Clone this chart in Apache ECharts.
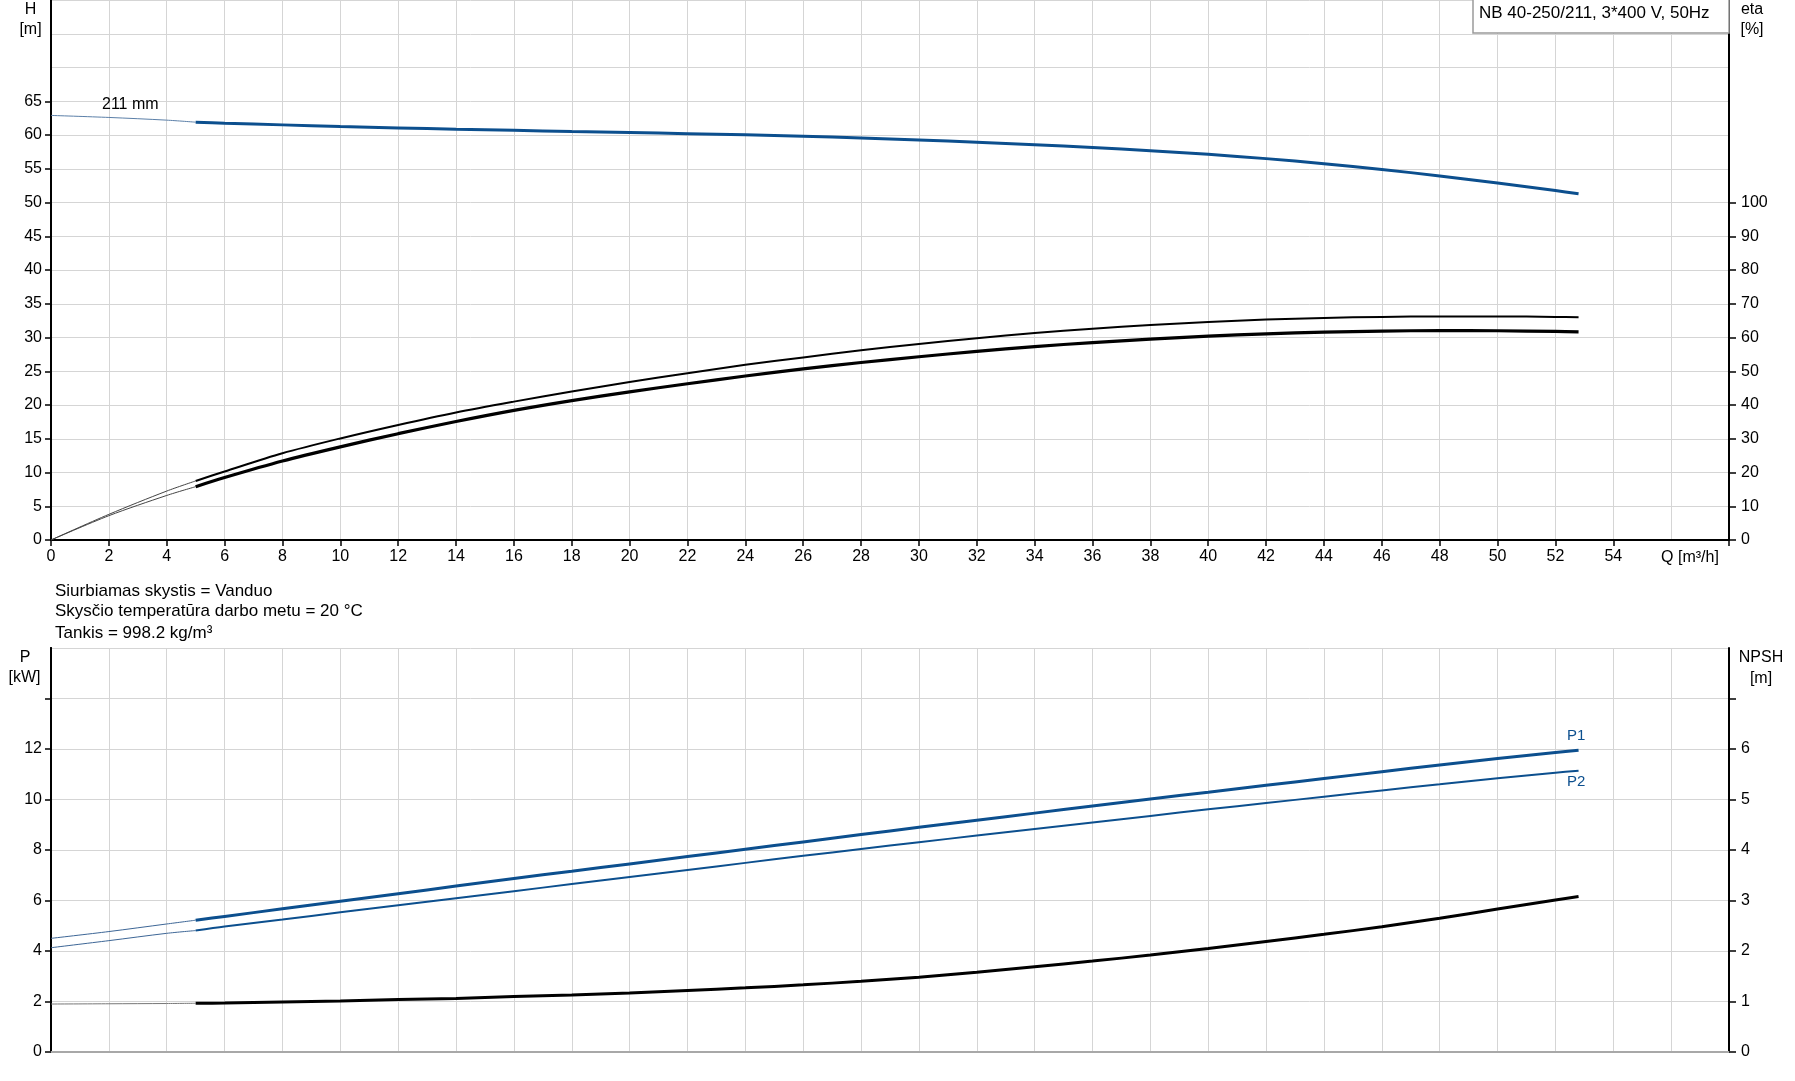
<!DOCTYPE html>
<html><head><meta charset="utf-8">
<script src="https://cdn.jsdelivr.net/npm/echarts@6/dist/echarts.min.js"></script>
<style>html,body{margin:0;padding:0;background:#fff}#c{width:1795px;height:1081px}</style>
</head><body><div id="c"></div>
<script>
// ---- data ----
const flow    = [5,6,8,10,12,14,16,18,20,22,24,26,28,30,32,34,36,38,40,42,44,46,48,50,52,52.8];
const head    = [61.9,61.75,61.5,61.25,61.05,60.85,60.7,60.52,60.37,60.2,60.02,59.82,59.55,59.25,58.93,58.57,58.16,57.68,57.14,56.5,55.75,54.9,53.93,52.88,51.77,51.3];
const etaA    = [17.5,20.3,25.7,30.1,34.1,37.8,41.0,44.0,46.8,49.4,51.9,54.1,56.2,58.1,59.8,61.3,62.6,63.7,64.6,65.3,65.8,66.1,66.25,66.25,66.1,66.0];
const etaB    = [15.8,18.5,23.4,27.6,31.5,35.1,38.4,41.3,43.9,46.3,48.6,50.7,52.6,54.3,55.9,57.3,58.5,59.5,60.4,61.1,61.6,61.9,62.05,62.0,61.8,61.65];
const p1      = [5.22,5.37,5.67,5.97,6.27,6.57,6.87,7.16,7.45,7.74,8.03,8.32,8.61,8.90,9.18,9.46,9.74,10.02,10.29,10.56,10.83,11.10,11.37,11.62,11.86,11.95];
const p2      = [4.81,4.97,5.25,5.53,5.81,6.09,6.37,6.65,6.93,7.21,7.49,7.77,8.04,8.31,8.57,8.83,9.09,9.35,9.61,9.86,10.11,10.36,10.60,10.84,11.06,11.14];
const npsh    = [0.965,0.97,0.99,1.01,1.04,1.06,1.10,1.13,1.17,1.22,1.27,1.33,1.40,1.48,1.58,1.69,1.80,1.92,2.05,2.19,2.33,2.48,2.65,2.83,3.01,3.08];
// thin parts (Q 0..5)
const flowExt = [0,2,4,5];
const headExt = [62.9,62.6,62.2,61.9];
const etaAExt = [0,7.6,14.5,17.5];
const etaBExt = [0,7.2,13.2,15.8];
const p1Ext   = [4.5,4.77,5.07,5.22];
const p2Ext   = [4.13,4.41,4.70,4.81];
const npshExt = [0.95,0.955,0.96,0.965];
// tick labels
const qLabels    = [0,2,4,6,8,10,12,14,16,18,20,22,24,26,28,30,32,34,36,38,40,42,44,46,48,50,52,54];
const hLabels    = [0,5,10,15,20,25,30,35,40,45,50,55,60,65];
const etaLabels  = [0,10,20,30,40,50,60,70,80,90,100];
const pLabels    = [0,2,4,6,8,10,12];
const npshLabels = [0,1,2,3,4,5,6];

const FONT = '"Liberation Sans", Arial, sans-serif';
const BLUE = '#0c4f8e';
const GRIDC = '#d5d5d5';
const TICKFS = 16;
const pair = (xs, ys) => xs.map((x, i) => [x, ys[i]]);

const chart = echarts.init(document.getElementById('c'), null, {renderer: 'canvas'});

const axisLbl = (extra) => Object.assign({fontSize: TICKFS, color: '#000', fontFamily: FONT}, extra);

function line(name, xs, ys, xi, yi, color, width) {
  return {name, type: 'line', xAxisIndex: xi, yAxisIndex: yi, data: pair(xs, ys),
    showSymbol: false, symbol: 'none', smooth: 0.3, silent: true,
    lineStyle: {color, width}, z: 5};
}
function txt(x, y, text, size, align, color, z) {
  return {type: 'text', x, y, z: z || 1, style: {text, font: size + 'px ' + FONT, fill: color || '#000', align: align || 'center', verticalAlign: 'middle'}};
}

const option = {
  animation: false,
  backgroundColor: '#fff',
  grid: [
    {left: 51, right: 66, top: 0, height: 540, outerBoundsMode: 'none', containLabel: false},
    {left: 51, right: 66, top: 648, height: 404, outerBoundsMode: 'none', containLabel: false}
  ],
  xAxis: [
    {gridIndex: 0, type: 'value', min: 0, max: 58, interval: 2, position: 'bottom',
     axisLine: {lineStyle: {color: '#000', width: 2}},
     axisTick: {show: true, length: 6, customValues: qLabels.concat([58]), lineStyle: {color: '#000', width: 1.5}},
     axisLabel: axisLbl({customValues: qLabels, margin: 9}),
     splitLine: {show: false}},
    {gridIndex: 0, type: 'value', min: 0, max: 58, interval: 2, position: 'bottom',
     axisLine: {show: false}, axisTick: {show: false}, axisLabel: {show: false},
     splitLine: {show: true, lineStyle: {color: GRIDC, width: 1}}},
    {gridIndex: 1, type: 'value', min: 0, max: 58, interval: 2, position: 'bottom',
     axisLine: {lineStyle: {color: '#b0b0b0', width: 2}},
     axisTick: {show: false}, axisLabel: {show: false},
     splitLine: {show: true, lineStyle: {color: GRIDC, width: 1}}},
    {gridIndex: 1, type: 'value', min: 0, max: 58, interval: 2, position: 'top',
     axisLine: {lineStyle: {color: '#a8a8a8', width: 2}},
     axisTick: {show: false}, axisLabel: {show: false}, splitLine: {show: false}}
  ],
  yAxis: [
    {gridIndex: 0, type: 'value', min: 0, max: 80, interval: 5, position: 'left',
     axisLine: {show: true, lineStyle: {color: '#000', width: 2}},
     axisTick: {show: false}, axisLabel: {show: false},
     splitLine: {show: true, lineStyle: {color: GRIDC, width: 1}}},
    {gridIndex: 0, type: 'value', min: 0, max: 80, interval: 5, position: 'left',
     axisLine: {show: true, lineStyle: {color: '#000', width: 2}},
     axisTick: {show: true, length: 6, customValues: hLabels, lineStyle: {color: '#000', width: 1.5}},
     axisLabel: axisLbl({customValues: hLabels, margin: 9}),
     splitLine: {show: false}},
    {gridIndex: 0, type: 'value', min: 0, max: 160, interval: 10, position: 'right',
     axisLine: {show: true, lineStyle: {color: '#000', width: 2}},
     axisTick: {show: true, length: 7, customValues: etaLabels, lineStyle: {color: '#000', width: 1.5}},
     axisLabel: axisLbl({customValues: etaLabels, margin: 12}),
     splitLine: {show: false}},
    {gridIndex: 1, type: 'value', min: 0, max: 16, interval: 2, position: 'left',
     axisLine: {show: true, lineStyle: {color: '#000', width: 2}},
     axisTick: {show: false}, axisLabel: {show: false},
     splitLine: {show: true, lineStyle: {color: GRIDC, width: 1}}},
    {gridIndex: 1, type: 'value', min: 0, max: 16, interval: 2, position: 'left',
     axisLine: {show: true, lineStyle: {color: '#000', width: 2}},
     axisTick: {show: true, length: 6, customValues: pLabels.concat([14]), lineStyle: {color: '#000', width: 1.5}},
     axisLabel: axisLbl({customValues: pLabels, margin: 9}),
     splitLine: {show: false}},
    {gridIndex: 1, type: 'value', min: 0, max: 8, interval: 1, position: 'right',
     axisLine: {show: true, lineStyle: {color: '#000', width: 2}},
     axisTick: {show: true, length: 7, customValues: npshLabels.concat([7]), lineStyle: {color: '#000', width: 1.5}},
     axisLabel: axisLbl({customValues: npshLabels, margin: 12}),
     splitLine: {show: false}}
  ],
  series: [
    line('H ext', flowExt, headExt, 0, 1, '#5b7fa8', 1),
    line('H', flow, head, 0, 1, BLUE, 3),
    line('eta A ext', flowExt, etaAExt, 0, 2, '#444', 1),
    line('eta B ext', flowExt, etaBExt, 0, 2, '#444', 1),
    line('eta A', flow, etaA, 0, 2, '#000', 2),
    line('eta B', flow, etaB, 0, 2, '#000', 3.2),
    line('P1 ext', flowExt, p1Ext, 2, 4, '#3d6696', 1),
    line('P2 ext', flowExt, p2Ext, 2, 4, '#3d6696', 1),
    line('P1', flow, p1, 2, 4, BLUE, 3),
    line('P2', flow, p2, 2, 4, BLUE, 2),
    line('NPSH ext', flowExt, npshExt, 2, 5, '#777', 1),
    line('NPSH', flow, npsh, 2, 5, '#000', 3)
  ],
  graphic: [
    txt(30.5, 10, 'H', 16), txt(30.5, 30, '[m]', 16),
    txt(1752, 10, 'eta', 16), txt(1752, 30, '[%]', 16),
    txt(25, 658, 'P', 16), txt(24.5, 678, '[kW]', 16),
    txt(1761, 658, 'NPSH', 16), txt(1761, 678.5, '[m]', 16),
    txt(102, 105, '211 mm', 16, 'left'),
    txt(1690, 557.5, 'Q [m³/h]', 16),
    {type: 'rect', z: 10, shape: {x: 1473, y: -2, width: 256, height: 35}, style: {fill: '#fff', stroke: '#9a9a9a', lineWidth: 1.5}},
    txt(1479, 13.5, 'NB 40-250/211, 3*400 V, 50Hz', 17, 'left', '#000', 11),
    txt(55, 591, 'Siurbiamas skystis = Vanduo', 17, 'left'),
    txt(55, 611, 'Skysčio temperatūra darbo metu = 20 °C', 17, 'left'),
    txt(55, 633, 'Tankis = 998.2 kg/m³', 17, 'left'),
    txt(1567, 736, 'P1', 15, 'left', BLUE),
    txt(1567, 782, 'P2', 15, 'left', BLUE)
  ]
};
chart.setOption(option);
</script>
</body></html>
